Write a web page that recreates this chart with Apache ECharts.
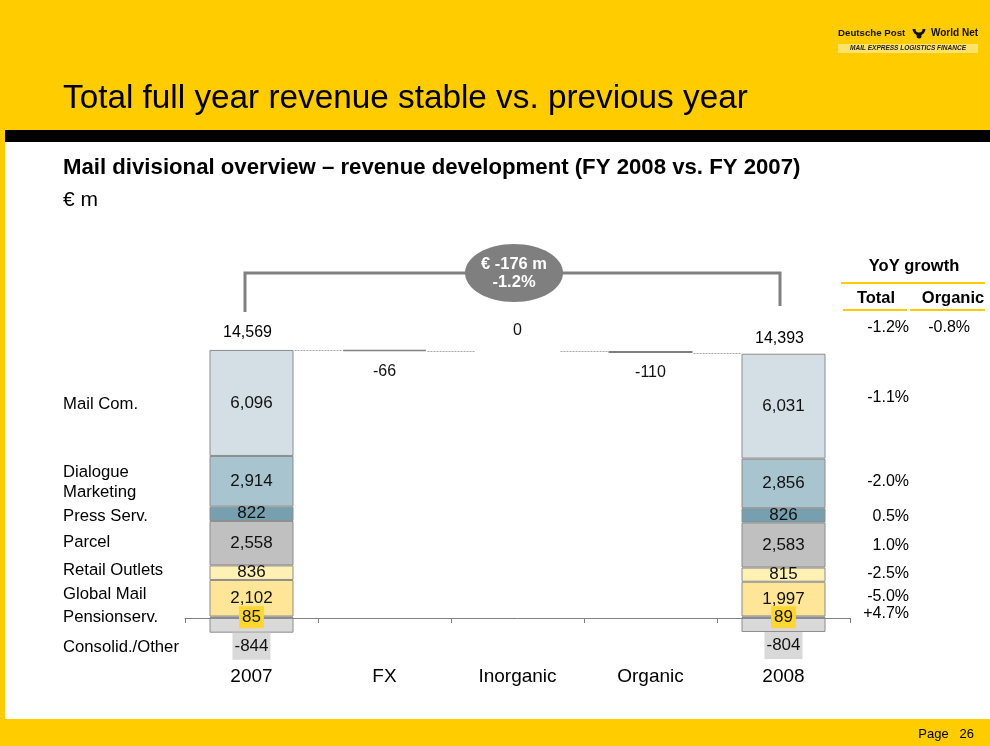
<!DOCTYPE html>
<html>
<head>
<meta charset="utf-8">
<script src="https://cdn.jsdelivr.net/npm/echarts@6/dist/echarts.min.js"></script>
<style>
  html, body { margin: 0; padding: 0; background: #FFCC00; }
  #main { width: 990px; height: 746px; }
</style>
</head>
<body>
<div id="main"></div>
<script>
// ---- data ----
const categories = ['2007', 'FX', 'Inorganic', 'Organic', '2008'];

// segments from bottom of the stack to the top
const segmentNames = ['Pensionserv.', 'Global Mail', 'Retail Outlets', 'Parcel', 'Press Serv.', 'Dialogue Marketing', 'Mail Com.'];
const revenue2007 = [85, 2102, 836, 2558, 822, 2914, 6096];
const revenue2008 = [89, 1997, 815, 2583, 826, 2856, 6031];
const consolidated = [-844, -804];          // Consolid./Other, 2007 and 2008
const totals = [14569, 14393];
const bridgeValues = [-66, 0, -110];        // FX, Inorganic, Organic

const leftLabels = ['Mail Com.', 'Dialogue\nMarketing', 'Press Serv.', 'Parcel', 'Retail Outlets', 'Global Mail', 'Pensionserv.', 'Consolid./Other'];
const yoyTotal = ['-1.1%', '-2.0%', '0.5%', '1.0%', '-2.5%', '-5.0%', '+4.7%'];
const yoyHeader = { total: '-1.2%', organic: '-0.8%' };
const deltaText = ['€ -176 m', '-1.2%'];

const segmentColors = ['#F5C518', '#FFE597', '#FFF0B4', '#C0C0C0', '#76A0B0', '#A8C4CE', '#D3DFE5'];
const FONT = '"Liberation Sans", Arial, sans-serif';
const BAR_W = 84;

const fmt = v => Math.abs(v) >= 1000 ? v.toLocaleString('en-US') : String(v);

// waterfall levels come from the 2007 stack
const top2007 = revenue2007.reduce((a, b) => a + b, 0);
const top2008 = revenue2008.reduce((a, b) => a + b, 0);
const levels = [top2007];
bridgeValues.forEach(v => levels.push(levels[levels.length - 1] + v));

const chart = echarts.init(document.getElementById('main'));

// stacked segment series
const segmentSeries = segmentNames.map((name, i) => {
    const isPension = i === 0;
    return {
        name: name,
        type: 'bar',
        stack: 'rev',
        barWidth: BAR_W,
        data: [revenue2007[i], '-', '-', '-', revenue2008[i]],
        itemStyle: { color: segmentColors[i], borderColor: '#8C8C8C', borderWidth: 1 },
        label: {
            show: true,
            position: 'inside',
            fontFamily: FONT,
            fontSize: 17,
            color: '#111',
            formatter: p => fmt(p.value),
            backgroundColor: isPension ? '#FFD633' : 'transparent',
            padding: isPension ? [3, 3, 2, 3] : 0
        },
        z: isPension ? 4 : 2
    };
});

const consolidSeries = {
    name: 'Consolid./Other',
    type: 'bar',
    stack: 'rev',
    barWidth: BAR_W,
    data: [consolidated[0], '-', '-', '-', consolidated[1]],
    itemStyle: { color: '#D9D9D9', borderColor: '#8C8C8C', borderWidth: 1 },
    label: {
        show: true,
        position: 'bottom',
        distance: 0,
        fontFamily: FONT,
        fontSize: 17,
        color: '#111',
        backgroundColor: '#D9D9D9',
        padding: [5, 2, 5, 2],
        formatter: p => fmt(p.value)
    }
};

// invisible base for the floating bridge bars
const baseData = ['-'];
const bridgeData = ['-'];
bridgeValues.forEach((v, i) => {
    baseData.push(levels[i] + Math.min(v, 0));
    const item = {
        value: Math.abs(v),
        raw: v,
        label: v === 0
            ? { position: 'top', distance: 13 }
            : { position: 'bottom', distance: 12 }
    };
    if (v === 0) item.itemStyle = { color: 'transparent', borderWidth: 0 };
    bridgeData.push(item);
});
baseData.push('-');
bridgeData.push('-');

const baseSeries = {
    name: 'base', type: 'bar', stack: 'rev', barWidth: BAR_W,
    data: baseData, itemStyle: { color: 'transparent' }, silent: true
};
const bridgeSeries = {
    name: 'bridge', type: 'bar', stack: 'rev', barWidth: BAR_W,
    data: bridgeData,
    itemStyle: { color: '#8C8C8C', borderColor: '#7F7F7F', borderWidth: 1.5 },
    label: {
        show: true, fontFamily: FONT, fontSize: 16, color: '#111',
        formatter: p => String(p.data.raw)
    }
};

// total labels above the 2007 / 2008 bars
const totalSeries = {
    name: 'totals', type: 'scatter', symbolSize: 0,
    itemStyle: { opacity: 1 },
    data: [
        { value: [0, top2007], label: { distance: 9, offset: [-4, 0] } },
        { value: [4, top2008], label: { distance: 7, offset: [-4, 0] } }
    ],
    label: {
        show: true, position: 'top', fontFamily: FONT, fontSize: 16, color: '#000',
        formatter: p => fmt(totals[p.dataIndex])
    },
    z: 5
};

// dotted connectors between bars
const connectorData = [];
for (let i = 0; i < levels.length; i++) {
    connectorData.push([i, i + 1, levels[i]]);
}
const connectorSeries = {
    name: 'connectors', type: 'custom',
    data: connectorData,
    renderItem: (params, api) => {
        const a = api.coord([api.value(0), api.value(2)]);
        const b = api.coord([api.value(1), api.value(2)]);
        const y = Math.round(a[1]) + 0.5;
        return {
            type: 'line',
            shape: { x1: a[0] + BAR_W / 2 + 1, y1: y, x2: b[0] - BAR_W / 2 - 1, y2: y },
            style: { stroke: '#A6A6A6', lineWidth: 1, lineDash: [2, 1] }
        };
    },
    z: 1
};

// ---- slide decoration ----
const leftY = [404, 482, 516, 542, 570, 594, 617, 647];
const yoyY = [398, 482, 517, 546, 574, 597, 614];

const graphics = [
    { type: 'rect', shape: { x: 5, y: 142, width: 985, height: 577 }, style: { fill: '#FFFFFF' } },
    { type: 'rect', shape: { x: 5, y: 130, width: 985, height: 12 }, style: { fill: '#000000' } },
    { type: 'text', x: 63, y: 99, style: { text: 'Total full year revenue stable vs. previous year', font: '33.3px ' + FONT, fill: '#000', textVerticalAlign: 'middle' } },
    // logo
    { type: 'text', x: 838, y: 33, style: { text: 'Deutsche Post', font: 'bold 9.7px ' + FONT, fill: '#111', textVerticalAlign: 'middle' } },
    { type: 'arc', shape: { cx: 919, cy: 29, r: 5, startAngle: 0, endAngle: Math.PI }, style: { stroke: '#111', lineWidth: 3, fill: null } },
    { type: 'circle', shape: { cx: 919, cy: 36, r: 2.5 }, style: { fill: '#111' } },
    { type: 'text', x: 931, y: 33, style: { text: 'World Net', font: 'bold 10px ' + FONT, fill: '#111', textVerticalAlign: 'middle' } },
    { type: 'rect', shape: { x: 838, y: 44, width: 140, height: 9 }, style: { fill: '#FFE26A' } },
    { type: 'text', x: 908, y: 48.5, style: { text: 'MAIL EXPRESS LOGISTICS FINANCE', font: 'italic bold 6.5px ' + FONT, fill: '#222', textAlign: 'center', textVerticalAlign: 'middle' } },
    // subtitle
    { type: 'text', x: 63, y: 168, style: { text: 'Mail divisional overview – revenue development (FY 2008 vs. FY 2007)', font: 'bold 22.2px ' + FONT, fill: '#000', textVerticalAlign: 'middle' } },
    { type: 'text', x: 63, y: 200, style: { text: '€ m', font: '21px ' + FONT, fill: '#000', textVerticalAlign: 'middle' } },
    // bracket with delta bubble
    { type: 'polyline', shape: { points: [[245, 312], [245, 273], [780, 273], [780, 306]] }, style: { stroke: '#808080', lineWidth: 3, fill: null } },
    { type: 'ellipse', shape: { cx: 514, cy: 273, rx: 49, ry: 29 }, style: { fill: '#7F7F7F' } },
    { type: 'text', x: 514, y: 264, style: { text: deltaText[0], font: 'bold 16.5px ' + FONT, fill: '#fff', textAlign: 'center', textVerticalAlign: 'middle' } },
    { type: 'text', x: 514, y: 282, style: { text: deltaText[1], font: 'bold 16.5px ' + FONT, fill: '#fff', textAlign: 'center', textVerticalAlign: 'middle' } },
    // YoY table
    { type: 'text', x: 914, y: 266, style: { text: 'YoY growth', font: 'bold 16.5px ' + FONT, fill: '#000', textAlign: 'center', textVerticalAlign: 'middle' } },
    { type: 'line', shape: { x1: 841, y1: 283, x2: 985, y2: 283 }, style: { stroke: '#FFCC00', lineWidth: 2 } },
    { type: 'text', x: 876, y: 298, style: { text: 'Total', font: 'bold 16.5px ' + FONT, fill: '#000', textAlign: 'center', textVerticalAlign: 'middle' } },
    { type: 'text', x: 953, y: 298, style: { text: 'Organic', font: 'bold 16.5px ' + FONT, fill: '#000', textAlign: 'center', textVerticalAlign: 'middle' } },
    { type: 'line', shape: { x1: 843, y1: 310, x2: 907, y2: 310 }, style: { stroke: '#FFCC00', lineWidth: 2 } },
    { type: 'line', shape: { x1: 910, y1: 310, x2: 985, y2: 310 }, style: { stroke: '#FFCC00', lineWidth: 2 } },
    { type: 'text', x: 909, y: 328, style: { text: yoyHeader.total, font: '16px ' + FONT, fill: '#000', textAlign: 'right', textVerticalAlign: 'middle' } },
    { type: 'text', x: 970, y: 328, style: { text: yoyHeader.organic, font: '16px ' + FONT, fill: '#000', textAlign: 'right', textVerticalAlign: 'middle' } },
    // footer
    { type: 'text', x: 974, y: 734, style: { text: 'Page   26', font: '13px ' + FONT, fill: '#000', textAlign: 'right', textVerticalAlign: 'middle' } }
];

leftLabels.forEach((t, i) => {
    graphics.push({ type: 'text', x: 63, y: leftY[i], style: { text: t, font: '16.7px ' + FONT, fill: '#000', textVerticalAlign: 'middle', lineHeight: 20 } });
});
yoyTotal.forEach((t, i) => {
    graphics.push({ type: 'text', x: 909, y: yoyY[i], style: { text: t, font: '16px ' + FONT, fill: '#000', textAlign: 'right', textVerticalAlign: 'middle' } });
});

chart.setOption({
    animation: false,
    backgroundColor: '#FFCC00',
    textStyle: { fontFamily: FONT },
    grid: { left: 185, right: 140, top: 318, bottom: 88 },
    xAxis: {
        type: 'category',
        data: categories,
        axisLine: { lineStyle: { color: '#808080', width: 1 } },
        axisTick: { show: true, length: 5, lineStyle: { color: '#808080' } },
        axisLabel: { fontFamily: FONT, fontSize: 19, color: '#000', margin: 9 },
        splitLine: { show: false }
    },
    yAxis: {
        type: 'value', min: -2300, max: 17250, show: false, splitLine: { show: false }
    },
    graphic: { elements: graphics },
    series: [connectorSeries, ...segmentSeries, consolidSeries, baseSeries, bridgeSeries, totalSeries]
});
</script>
</body>
</html>
